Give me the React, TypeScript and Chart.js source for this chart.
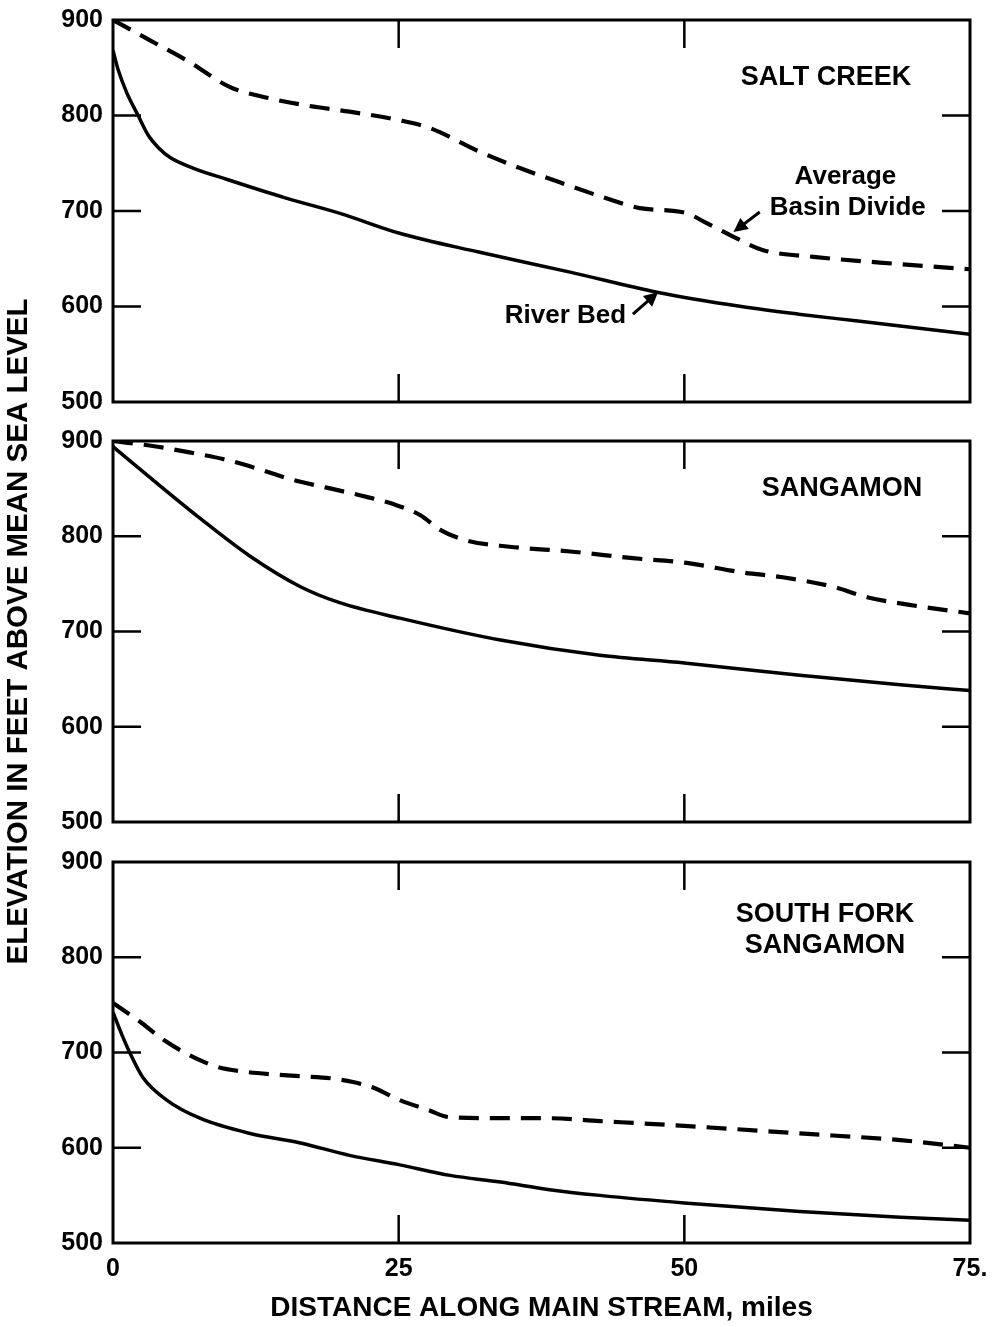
import React, { useEffect, useRef } from 'react';
import { Chart, registerables } from 'chart.js';

Chart.register(...registerables);

// ---------- axis ticks ----------
const X_TICKS = [0, 25, 50, 75];
const X_TICK_LABELS = ['0', '25', '50', '75.'];
const Y_TICKS = [500, 600, 700, 800, 900];
const INNER_X_TICKS = [25, 50];
const INNER_Y_TICKS = [600, 700, 800];

// ---------- Salt Creek ----------
const saltBedMiles = [0, 0.45, 1.2, 2.2, 3.1, 4, 5, 7, 10, 15, 20, 25, 32, 40, 47.6, 55, 60, 65, 70, 75];
const saltBedElev = [868, 848, 824, 800, 779, 766, 756, 745, 733, 714, 697, 677, 657, 636, 615, 600, 592, 585, 578, 571];
const saltDivideMiles = [0, 3.2, 6.7, 10.2, 13.7, 17.2, 20.7, 25.1, 27.7, 32.1, 35.6, 39.1, 43.5, 46.1, 50.1, 52, 54.3, 56.9, 61.3, 67.1, 75];
const saltDivideElev = [900, 879, 856, 830, 818, 810, 804, 795, 787, 762, 745, 730, 712, 703, 698, 687, 673, 659, 652, 646, 639];

// ---------- Sangamon ----------
const sangBedMiles = [0, 3.2, 7.6, 12, 16.4, 19.9, 25.1, 33.9, 42.6, 50, 60.1, 68.9, 75];
const sangBedElev = [894, 862, 819, 779, 747, 730, 714, 691, 675, 667, 654, 644, 638];
const sangDivideMiles = [0, 3.9, 6.7, 10, 12.9, 15.8, 18.7, 21.6, 24.7, 26.9, 28.6, 30.8, 34.7, 40, 45.5, 50.2, 55.1, 58.6, 63, 66, 69.7, 75];
const sangDivideElev = [900, 894, 888, 880, 870, 859, 851, 843, 833, 822, 807, 796, 789, 784, 777, 772, 762, 757, 747, 736, 728, 719];

// ---------- South Fork Sangamon ----------
const sfBedMiles = [0, 0.8, 1.5, 2.6, 4.7, 7.6, 12, 16.4, 20.7, 25.1, 29.5, 33.9, 38.2, 42.6, 50, 60.1, 68.9, 75];
const sfBedElev = [742, 718, 699, 674, 650, 631, 615, 605, 592, 582, 571, 564, 556, 550, 542, 533, 527, 524];
const sfDivideMiles = [0, 2.4, 4.1, 6.1, 7.6, 9.1, 11.4, 14, 16.6, 19, 21, 22.8, 25.1, 27.5, 29.5, 33.9, 38, 42.6, 50, 60.1, 68.9, 75];
const sfDivideElev = [752, 732, 716, 701, 692, 685, 680, 677, 675, 673, 669, 663, 650, 640, 632, 631, 631, 628, 623, 615, 608, 600];

const FONT = "'Liberation Sans', Arial, Helvetica, sans-serif";
const W = 993;
const H = 1327;

type Note = { text: string; x: number; y: number; size?: number };
type Arrow = { from: [number, number]; to: [number, number] };

type PanelDef = {
  bedMiles: number[];
  bedElev: number[];
  divMiles: number[];
  divElev: number[];
  top: number;
  bottom: number;
  showX: boolean;
  showYTitle: boolean;
  notes: Note[];
  arrows: Arrow[];
};

const panels: PanelDef[] = [
  {
    bedMiles: saltBedMiles, bedElev: saltBedElev, divMiles: saltDivideMiles, divElev: saltDivideElev,
    top: 20, bottom: 402, showX: false, showYTitle: false,
    notes: [
      { text: 'SALT CREEK', x: 62.4, y: 840, size: 27 },
      { text: 'Average', x: 64.1, y: 736, size: 26 },
      { text: 'Basin Divide', x: 64.3, y: 703, size: 26 },
      { text: 'River Bed', x: 39.6, y: 590, size: 26 },
    ],
    arrows: [
      { from: [56.6, 699], to: [54.3, 678] },
      { from: [45.5, 592], to: [47.7, 615] },
    ],
  },
  {
    bedMiles: sangBedMiles, bedElev: sangBedElev, divMiles: sangDivideMiles, divElev: sangDivideElev,
    top: 441, bottom: 822, showX: false, showYTitle: true,
    notes: [{ text: 'SANGAMON', x: 63.8, y: 850, size: 27 }],
    arrows: [],
  },
  {
    bedMiles: sfBedMiles, bedElev: sfBedElev, divMiles: sfDivideMiles, divElev: sfDivideElev,
    top: 862, bottom: 1243, showX: true, showYTitle: false,
    notes: [
      { text: 'SOUTH FORK', x: 62.3, y: 845, size: 27 },
      { text: 'SANGAMON', x: 62.3, y: 812, size: 27 },
    ],
    arrows: [],
  },
];

function makePlugin(def: PanelDef) {
  return {
    id: 'frameAndNotes',
    afterDatasetsDraw(chart: any) {
      const { ctx, chartArea: a, scales } = chart;
      const xs = scales.x;
      const ys = scales.y;
      ctx.save();
      ctx.strokeStyle = '#000';
      ctx.fillStyle = '#000';
      // frame
      ctx.lineWidth = 3;
      ctx.strokeRect(a.left, a.top, a.right - a.left, a.bottom - a.top);
      // inner ticks
      ctx.lineWidth = 2.5;
      const TL = 28;
      ctx.beginPath();
      for (const v of INNER_X_TICKS) {
        const px = xs.getPixelForValue(v);
        ctx.moveTo(px, a.top);
        ctx.lineTo(px, a.top + TL);
        ctx.moveTo(px, a.bottom);
        ctx.lineTo(px, a.bottom - TL);
      }
      for (const v of INNER_Y_TICKS) {
        const py = ys.getPixelForValue(v);
        ctx.moveTo(a.left, py);
        ctx.lineTo(a.left + TL, py);
        ctx.moveTo(a.right, py);
        ctx.lineTo(a.right - TL, py);
      }
      ctx.stroke();
      // notes
      ctx.textAlign = 'center';
      ctx.textBaseline = 'middle';
      for (const n of def.notes) {
        ctx.font = `bold ${n.size || 26}px ${FONT}`;
        ctx.fillText(n.text, xs.getPixelForValue(n.x), ys.getPixelForValue(n.y));
      }
      // arrows
      for (const ar of def.arrows) {
        const x1 = xs.getPixelForValue(ar.from[0]);
        const y1 = ys.getPixelForValue(ar.from[1]);
        const x2 = xs.getPixelForValue(ar.to[0]);
        const y2 = ys.getPixelForValue(ar.to[1]);
        const ang = Math.atan2(y2 - y1, x2 - x1);
        ctx.lineWidth = 3;
        ctx.beginPath();
        ctx.moveTo(x1, y1);
        ctx.lineTo(x2 - 6 * Math.cos(ang), y2 - 6 * Math.sin(ang));
        ctx.stroke();
        const hl = 14;
        const hw = 7;
        ctx.beginPath();
        ctx.moveTo(x2, y2);
        ctx.lineTo(x2 - hl * Math.cos(ang) + hw * Math.sin(ang), y2 - hl * Math.sin(ang) - hw * Math.cos(ang));
        ctx.lineTo(x2 - hl * Math.cos(ang) - hw * Math.sin(ang), y2 - hl * Math.sin(ang) + hw * Math.cos(ang));
        ctx.closePath();
        ctx.fill();
      }
      ctx.restore();
    },
  };
}

function buildConfig(def: PanelDef): any {
  const xAxisHeight = def.showX ? H - def.bottom : 0;
  return {
    type: 'line',
    data: {
      datasets: [
        {
          label: 'Average Basin Divide',
          data: def.divMiles.map((m, i) => ({ x: m, y: def.divElev[i] })),
          borderColor: '#000',
          borderWidth: 4.2,
          borderDash: [20, 11],
          pointRadius: 0,
          cubicInterpolationMode: 'monotone',
          fill: false,
        },
        {
          label: 'River Bed',
          data: def.bedMiles.map((m, i) => ({ x: m, y: def.bedElev[i] })),
          borderColor: '#000',
          borderWidth: 3.5,
          pointRadius: 0,
          cubicInterpolationMode: 'monotone',
          fill: false,
        },
      ],
    },
    options: {
      responsive: false,
      animation: false,
      devicePixelRatio: 1,
      layout: {
        padding: { left: 0, right: W - 970, top: def.top, bottom: H - def.bottom - xAxisHeight },
      },
      plugins: { legend: { display: false }, tooltip: { enabled: false } },
      scales: {
        x: {
          type: 'linear',
          min: 0,
          max: 75,
          grid: { display: false, drawTicks: false },
          border: { display: false },
          afterBuildTicks: (s: any) => { s.ticks = X_TICKS.map((v) => ({ value: v })); },
          afterFit: (s: any) => {
            s.height = xAxisHeight;
            s.paddingLeft = 0;
            s.paddingRight = 0;
            s.paddingTop = 0;
            s.paddingBottom = 0;
          },
          ticks: {
            display: def.showX,
            padding: 11,
            maxRotation: 0,
            color: '#000',
            font: { family: FONT, size: 25, weight: 'bold' },
            callback: (v: any) => X_TICK_LABELS[X_TICKS.indexOf(Number(v))] ?? '',
          },
          title: {
            display: def.showX,
            text: 'DISTANCE ALONG MAIN STREAM, miles',
            color: '#000',
            font: { family: FONT, size: 28, weight: 'bold' },
            padding: { top: 0, bottom: 2 },
          },
        },
        y: {
          type: 'linear',
          min: 500,
          max: 900,
          grid: { display: false, drawTicks: false },
          border: { display: false },
          afterBuildTicks: (s: any) => { s.ticks = Y_TICKS.map((v) => ({ value: v })); },
          afterFit: (s: any) => {
            s.width = 113;
            s.paddingTop = 0;
            s.paddingBottom = 0;
            s.paddingLeft = 0;
            s.paddingRight = 0;
          },
          ticks: {
            padding: 10,
            color: '#000',
            font: { family: FONT, size: 25, weight: 'bold' },
            callback: (v: any) => String(v),
          },
          title: {
            display: def.showYTitle,
            text: 'ELEVATION IN FEET ABOVE MEAN SEA LEVEL',
            color: '#000',
            font: { family: FONT, size: 29.5, weight: 'bold' },
            padding: { top: 1, bottom: 0 },
          },
        },
      },
    },
    plugins: [makePlugin(def)],
  };
}

export default function App() {
  const r0 = useRef<HTMLCanvasElement>(null);
  const r1 = useRef<HTMLCanvasElement>(null);
  const r2 = useRef<HTMLCanvasElement>(null);

  useEffect(() => {
    const refs = [r0, r1, r2];
    const charts = panels.map((def, i) => new Chart(refs[i].current as HTMLCanvasElement, buildConfig(def)));
    return () => charts.forEach((c) => c.destroy());
  }, []);

  const cs: React.CSSProperties = { position: 'absolute', left: 0, top: 0, width: W, height: H };
  return (
    <div style={{ position: 'absolute', left: 0, top: 0, width: W, height: H, background: '#fff' }}>
      <canvas ref={r0} width={W} height={H} style={cs} />
      <canvas ref={r1} width={W} height={H} style={cs} />
      <canvas ref={r2} width={W} height={H} style={cs} />
    </div>
  );
}
